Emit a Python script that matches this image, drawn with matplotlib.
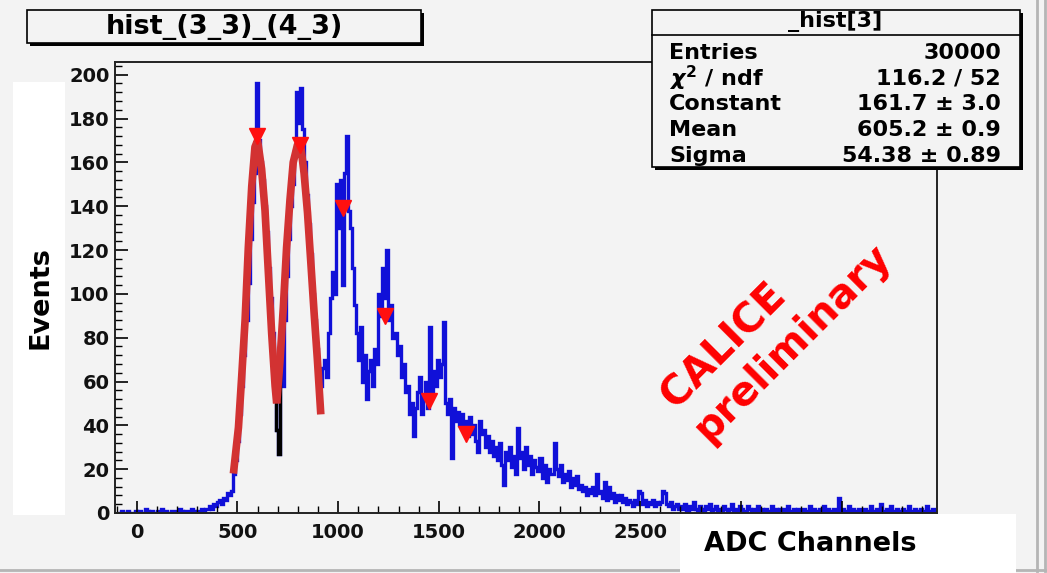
import numpy as np
import matplotlib
matplotlib.use("Agg")
import matplotlib.pyplot as plt
from matplotlib.patches import Rectangle
from matplotlib.lines import Line2D
from matplotlib.ticker import MultipleLocator, FuncFormatter

plt.rcParams['font.family'] = ['DejaVu Sans']
plt.rcParams['font.weight'] = 'bold'

# ---------------- data ----------------
bin_start = -100
bin_width = 10

counts_low = [0, 0, 1, 0, 0, 1, 0, 0, 0, 1,
              0, 1, 0, 0, 2, 1, 0, 1, 0, 0,
              1, 0, 2, 0, 1, 0, 0, 1, 1, 0,
              0, 2, 1, 0, 1, 1, 0, 2, 1, 0,
              1, 1, 2, 1, 2, 2, 3, 2, 4, 3,
              5, 6, 4, 7, 6, 9, 8, 10]
counts_peaks = [18, 24, 33, 45, 58, 72, 88, 105, 125, 142,
                155, 196, 170, 160, 152, 140, 128, 112, 98, 82,
                62, 38, 27, 66, 58, 88, 108, 125, 140, 150,
                165, 192, 178, 194, 175, 160, 145, 132, 118, 100,
                88, 75, 62, 58, 66, 70, 62, 82, 98, 110,
                100, 150, 130, 152, 104, 155, 172, 138, 130, 112,
                95, 82]
counts_mid = [70, 85, 60, 72, 52, 65, 70, 58, 75, 68,
              100, 90, 112, 98, 120, 88, 95, 80, 82, 72,
              76, 62, 68, 55, 58, 45, 50, 35, 48, 55,
              62, 45, 52, 60, 48, 85, 55, 65, 58, 70,
              62, 68, 87, 50, 45, 52, 25, 48, 42, 46,
              40, 45, 38, 42, 35, 44, 36, 40, 33, 28,
              42, 36, 38, 30, 35, 28, 33, 26, 30, 24,
              32, 22, 13, 28, 24, 30, 21, 26, 18, 39,
              25, 28, 20, 30, 22, 26, 18, 24, 21, 19,
              25, 16, 22, 14, 20, 18, 18, 32, 20, 17,
              22, 14, 18, 15, 19, 12, 16, 13, 17, 11,
              13, 10, 12, 8, 11, 9, 12, 8, 18, 9,
              10, 7, 14, 6, 12, 7, 9, 5, 8, 6,
              8, 5, 7, 4, 6, 5, 3, 6, 4, 10,
              9, 4, 6, 3, 5, 4, 6, 3, 5, 4,
              5, 10, 9, 4, 3, 5, 2, 3, 4, 2]
counts_tail = [3, 2, 4, 1, 3, 2, 5, 2, 1, 3,
               2, 1, 3, 2, 4, 1, 2, 3, 1, 2,
               1, 3, 2, 1, 2, 4, 1, 2, 1, 3,
               2, 1, 1, 3, 2, 1, 2, 1, 3, 1,
               2, 1, 2, 1, 1, 3, 1, 2, 1, 2,
               1, 2, 1, 3, 1, 1, 2, 1, 2, 1,
               1, 2, 1, 1, 3, 1, 2, 1, 1, 2,
               1, 3, 1, 2, 1, 1, 2, 1, 7, 1,
               2, 1, 1, 3, 1, 2, 1, 1, 2, 1,
               1, 2, 1, 1, 3, 1, 1, 2, 1, 4,
               1, 1, 2, 1, 3, 1, 1, 2, 1, 1,
               2, 1, 1, 3, 1, 1, 2, 1, 1, 2,
               1, 1, 3, 1, 1, 2, 1]

fit1_x = [480, 505, 521, 538, 554, 571, 587, 600, 620, 637, 654, 670, 687, 695]
fit1_y = [18, 39, 62, 88, 121, 149, 167, 170, 157, 138, 109, 82, 58, 50]
fit2_x = [695, 711, 728, 744, 761, 777, 798, 815, 831, 848, 864, 881, 897, 914]
fit2_y = [50, 69, 94, 121, 143, 160, 168, 167, 155, 137, 115, 91, 70, 45]

peak_x = [597, 811, 1025, 1233, 1452, 1635]
peak_y = [172, 168, 139, 90, 51, 36]

title_text = "hist_(3_3)_(4_3)"
stats_title = "_hist[3]"
stats_names = ["Entries", r"$\chi^{2}$ / ndf", "Constant", "Mean", "Sigma"]
stats_values = ["30000", "116.2 / 52", "161.7 \u00b1 3.0", "605.2 \u00b1 0.9", "54.38 \u00b1 0.89"]
x_label = "ADC Channels"
y_label = "Events"
watermark = "CALICE\npreliminary"

# ---------------- figure ----------------
W, H = 1047, 573
BG = '#f3f3f3'
fig = plt.figure(figsize=(W / 100, H / 100), dpi=100, facecolor=BG)


def fx(x):
    return x / W


def fy(y):
    return 1 - y / H


def frect(x0, y0, x1, y1, **kw):
    r = Rectangle((fx(x0), fy(y1)), (x1 - x0) / W, (y1 - y0) / H,
                  transform=fig.transFigure, **kw)
    fig.add_artist(r)
    return r


ax = fig.add_axes([fx(115), fy(513), (937 - 115) / W, (513 - 62) / H])
ax.set_facecolor(BG)

counts = np.array(counts_low + counts_peaks + counts_mid + counts_tail, dtype=float)
edges = bin_start + bin_width * np.arange(len(counts) + 1)

ax.stairs(counts, edges, color='#1010d8', lw=2.4, baseline=None)
i0, i1 = np.searchsorted(edges, [680, 720])
ax.stairs(counts[i0:i1], edges[i0:i1 + 1], color='black', lw=2.4, baseline=None)

ax.plot(fit1_x, fit1_y, color='#d23232', lw=5.5, solid_capstyle='butt')
ax.plot(fit2_x, fit2_y, color='#d23232', lw=5.5, solid_capstyle='butt')
ax.plot(peak_x, peak_y, linestyle='none', marker='v', markersize=11,
        color='#ff1010', markeredgecolor='#ff1010')

ax.set_xlim(-108, 3974)
ax.set_ylim(0, 205.8)
ax.xaxis.set_major_locator(MultipleLocator(500))
ax.xaxis.set_minor_locator(MultipleLocator(100))
# labels at 3000 and beyond are hidden under the axis-title box in the reference
ax.xaxis.set_major_formatter(FuncFormatter(lambda v, p: f"{v:.0f}" if v <= 2600 else ""))
ax.yaxis.set_major_locator(MultipleLocator(20))
ax.yaxis.set_minor_locator(MultipleLocator(4))
ax.tick_params(which='major', direction='in', length=9, width=1.2, labelsize=14)
ax.tick_params(which='minor', direction='in', length=5, width=1.0)
ax.tick_params(axis='x', which='major', pad=7)
ax.tick_params(axis='y', which='major', pad=4)
for lab in ax.get_xticklabels() + ax.get_yticklabels():
    lab.set_fontweight('bold')
    lab.set_color('#111111')
for s in ax.spines.values():
    s.set_linewidth(1.4)
    s.set_color('#222222')

# title box with shadow
frect(30, 13, 424, 46, facecolor='black', edgecolor='none', zorder=5)
frect(27, 10, 421, 43, facecolor=BG, edgecolor='black', lw=1.2, zorder=6)
fig.text(fx(224), fy(27), title_text, fontsize=19.5, fontweight='bold',
         ha='center', va='center', zorder=7)

# stats box with shadow
frect(655, 13, 1023, 170, facecolor='black', edgecolor='none', zorder=5)
frect(652, 10, 1020, 167, facecolor=BG, edgecolor='black', lw=1.2, zorder=6)
fig.add_artist(Line2D([fx(652), fx(1020)], [fy(35), fy(35)], color='black', lw=1.2,
                      transform=fig.transFigure, zorder=7))
fig.text(fx(835), fy(22), stats_title, fontsize=16, fontweight='bold',
         ha='center', va='center', zorder=7)
row_y = [53, 78, 104, 130, 156]
for name, val, yy in zip(stats_names, stats_values, row_y):
    fig.text(fx(669), fy(yy), name, fontsize=16, fontweight='bold',
             ha='left', va='center', zorder=7)
    fig.text(fx(1001), fy(yy), val, fontsize=16, fontweight='bold',
             ha='right', va='center', zorder=7)

# white label boxes
frect(13, 82, 65, 515, facecolor='white', edgecolor='none', zorder=8)
fig.text(fx(40), fy(298), y_label, fontsize=19.5, fontweight='bold', rotation=90,
         ha='center', va='center', zorder=9)
frect(680, 514, 1016, 573, facecolor='white', edgecolor='none', zorder=8)
fig.text(fx(810), fy(544), x_label, fontsize=19.5, fontweight='bold',
         ha='center', va='center', zorder=9)

# watermark
fig.text(fx(776), fy(326), watermark, fontsize=29, fontweight='bold', color='#ff0000',
         rotation=45, rotation_mode='anchor', ha='center', va='center',
         multialignment='left', linespacing=1.2, zorder=9)

# canvas border lines
for xx in (1037, 1045):
    fig.add_artist(Line2D([fx(xx), fx(xx)], [fy(0), fy(571)], color='#b5b5b5', lw=2,
                          transform=fig.transFigure, zorder=4))
fig.add_artist(Line2D([fx(0), fx(1045)], [fy(570), fy(570)], color='#b5b5b5', lw=2,
                      transform=fig.transFigure, zorder=4))

fig.savefig('out.png', dpi=100, facecolor=BG)
